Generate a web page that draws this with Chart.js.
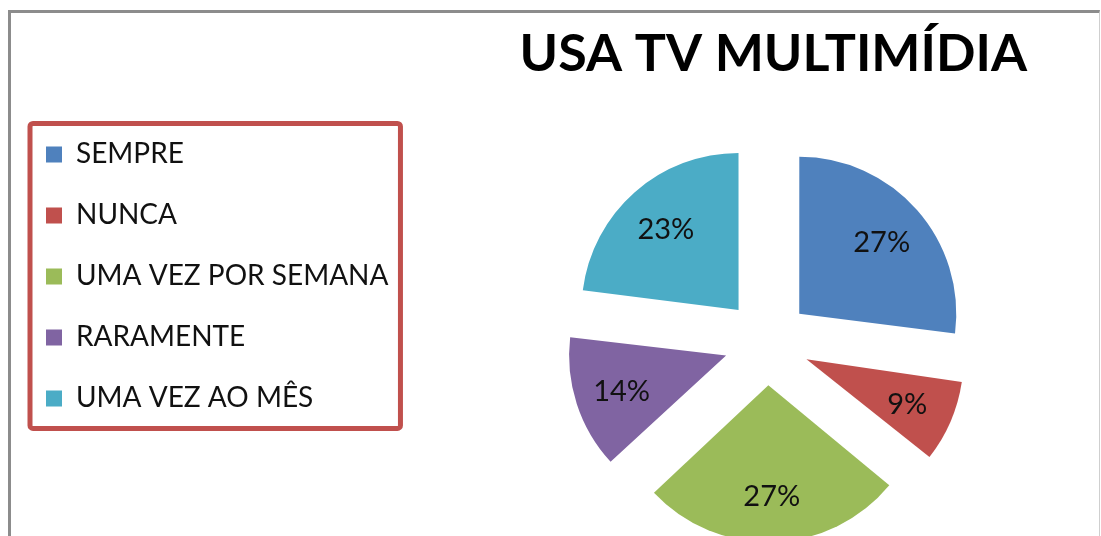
<!DOCTYPE html>
<html>
<head>
<meta charset="utf-8">
<script src="https://cdn.jsdelivr.net/npm/chart.js@4"></script>
<style>
  html, body { margin: 0; padding: 0; background: #ffffff; overflow: hidden; width: 1101px; height: 536px; }
  #frame { position: absolute; left: 8px; top: 10px; width: 1088px; height: 600px;
           border-left: 3px solid #8c8c8c; border-top: 3px solid #8c8c8c; border-right: 1px solid #cfcfcf; }
  #wrap { position: absolute; left: 0; top: 0; width: 1101px; height: 577px; }
</style>
</head>
<body>
<div id="frame"></div>
<div id="wrap"><canvas id="c"></canvas></div>
<script>
const chartTitle = 'USA TV MULTIMÍDIA';
const categories = ['SEMPRE', 'NUNCA', 'UMA VEZ POR SEMANA', 'RARAMENTE', 'UMA VEZ AO MÊS'];
const values = [27, 9, 27, 14, 23];
const sliceColors = ['#4f81bd', '#c0504d', '#9bbb59', '#8064a2', '#4bacc6'];

const EXPLODE = 172;     // Chart.js arc offset (translation = offset / 4)
const RADIUS = 157;
const LEGEND_WIDTH = 494;

const layoutPlugin = {
  id: 'layoutTweaks',
  beforeInit(chart) {
    const lg = chart.legend;
    if (lg && !lg.$patched) {
      const origFit = lg.fit;
      lg.fit = function () {
        origFit.call(this);
        this.width = LEGEND_WIDTH;
      };
      lg.$patched = true;
    }
  },
  beforeDatasetsDraw(chart) {
    const meta = chart.getDatasetMeta(0);
    const R = meta.controller.outerRadius;
    meta.data.forEach(el => {
      const off = (el.options.offset || 0) / 4;
      const fix = 1 - Math.sin(Math.min(Math.PI, el.circumference));
      el.outerRadius = R - off * fix;
    });
  },
  afterDatasetsDraw(chart) {
    const ctx = chart.ctx;
    const meta = chart.getDatasetMeta(0);
    const R = meta.controller.outerRadius;
    ctx.save();
    ctx.font = '29px Lato';
    ctx.fillStyle = '#111111';
    ctx.textAlign = 'center';
    ctx.textBaseline = 'middle';
    meta.data.forEach((el, i) => {
      const mid = (el.startAngle + el.endAngle) / 2;
      const t = (el.options.offset || 0) / 4 + 0.7 * R;
      ctx.fillText(values[i] + '%', el.x + Math.cos(mid) * t, el.y + Math.sin(mid) * t + 2);
    });
    ctx.restore();
  },
  afterDraw(chart) {
    const hb = chart.legend.legendHitBoxes;
    if (!hb || !hb.length) return;
    const first = hb[0], last = hb[hb.length - 1];
    let maxRight = 0;
    hb.forEach(h => { maxRight = Math.max(maxRight, h.left + h.width); });
    const ctx = chart.ctx;
    const x0 = first.left - 16, y0 = first.top - 17;
    const x1 = maxRight + 12, y1 = last.top + last.height + 16;
    ctx.save();
    ctx.strokeStyle = '#c0504d';
    ctx.lineWidth = 5;
    ctx.beginPath();
    if (ctx.roundRect) ctx.roundRect(x0, y0, x1 - x0, y1 - y0, 3); else ctx.rect(x0, y0, x1 - x0, y1 - y0);
    ctx.stroke();
    ctx.restore();
  }
};

new Chart(document.getElementById('c'), {
  type: 'pie',
  data: {
    labels: categories,
    datasets: [{
      data: values,
      backgroundColor: sliceColors,
      borderWidth: 0,
      offset: EXPLODE,
      radius: RADIUS
    }]
  },
  options: {
    responsive: true,
    maintainAspectRatio: false,
    animation: false,
    events: [],
    layout: { padding: { left: 13, right: 74, top: 0, bottom: 0 } },
    plugins: {
      title: {
        display: true,
        text: chartTitle,
        align: 'end',
        fullSize: true,
        color: '#000000',
        font: { family: 'Lato', weight: 'bold', size: 52, lineHeight: 1.2 },
        padding: { top: 23, bottom: 22 }
      },
      legend: {
        display: true,
        position: 'left',
        align: 'start',
        fullSize: false,
        labels: {
          boxWidth: 16,
          boxHeight: 16,
          padding: 33,
          color: '#111111',
          font: { family: 'Lato', size: 28 }
        }
      },
      tooltip: { enabled: false }
    }
  },
  plugins: [layoutPlugin]
});
</script>
</body>
</html>
